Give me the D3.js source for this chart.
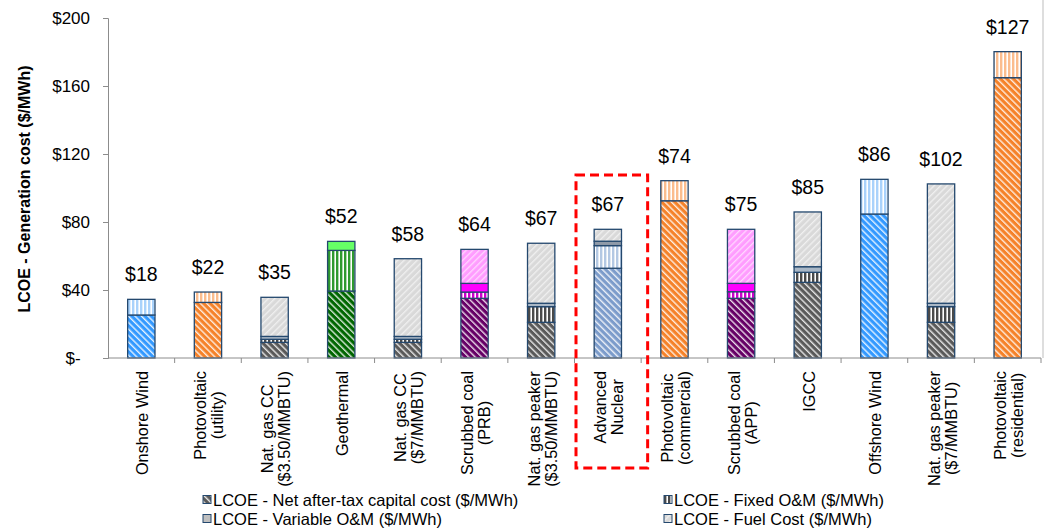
<!DOCTYPE html>
<html>
<head>
<meta charset="utf-8">
<script src="https://cdn.jsdelivr.net/npm/d3@7/dist/d3.min.js"></script>
<style>
  html, body { margin: 0; padding: 0; background: #fff; }
  svg { display: block; font-family: Arial, "Liberation Sans", sans-serif; }
</style>
</head>
<body>
<svg id="chart" width="1048" height="529"></svg>
<script>
// Technologies along the x axis (line breaks split with "\n")
const categories = [
  "Onshore Wind", "Photovoltaic\n(utility)", "Nat. gas CC\n($3.50/MMBTU)", "Geothermal",
  "Nat. gas CC\n($7/MMBTU)", "Scrubbed coal\n(PRB)", "Nat. gas peaker\n($3.50/MMBTU)",
  "Advanced\nNuclear", "Photovoltaic\n(commercial)", "Scrubbed coal\n(APP)", "IGCC",
  "Offshore Wind", "Nat. gas peaker\n($7/MMBTU)", "Photovoltaic\n(residential)"
];
// Technology family of each bar (selects its colour set)
const family = ["wind", "pv", "gas", "geo", "gas", "coal", "gas", "nuclear", "pv", "coal", "gas", "wind", "gas", "pv"];

// LCOE components, $/MWh
const capitalCost = [25.3, 32.7, 9.2, 39.4, 9.2, 35.1, 21.0, 52.8, 92.5, 35.1, 44.5, 84.7, 21.0, 164.9];
const fixedOM     = [9.2, 6.1, 1.8, 23.9, 1.8, 3.7, 9.2, 13.3, 11.8, 3.9, 5.9, 20.4, 9.2, 15.3];
const variableOM  = [0, 0, 1.7, 5.3, 1.7, 5.1, 2.0, 2.6, 0, 4.9, 3.3, 0, 2.0, 0];
const fuelCost    = [0, 0, 23.0, 0, 45.7, 20.0, 35.3, 7.0, 0, 31.8, 32.2, 0, 70.2, 0];

// Figures printed above each bar
const barLabels = [18, 22, 35, 52, 58, 64, 67, 67, 74, 75, 85, 86, 102, 127];

// Axis ticks
const yTicks = [0, 40, 80, 120, 160, 200];

const seriesKeys = ["capital", "fixed", "variable", "fuel"];
const legendNames = {
  capital: "LCOE - Net after-tax capital cost ($/MWh)",
  fixed: "LCOE - Fixed O&M ($/MWh)",
  variable: "LCOE - Variable O&M ($/MWh)",
  fuel: "LCOE - Fuel Cost ($/MWh)"
};

// colour sets: capital base, fixed stripe colour, variable fill, fuel base
const palette = {
  wind:    { capital: "#3399ff", fixed: "#a9d2fb", variable: "#6fb6ff", fuel: "#d9d9d9" },
  pv:      { capital: "#f5822a", fixed: "#fbbd8e", variable: "#f9a35f", fuel: "#d9d9d9" },
  gas:     { capital: "#5a5a5a", fixed: "#4a4a4a", variable: "#a9b7c6", fuel: "#d9d9d9" },
  geo:     { capital: "#006600", fixed: "#2f9a2f", variable: "#66ff66", fuel: "#d9d9d9" },
  coal:    { capital: "#660066", fixed: "#cc00cc", variable: "#ff00ff", fuel: "#ff9cff" },
  nuclear: { capital: "#7c9ccb", fixed: "#b3c8e3", variable: "#8f9aa8", fuel: "#d9d9d9" },
  legend:  { capital: "#5a5a5a", fixed: "#4a4a4a", variable: "#bfbfbf", fuel: "#d9d9d9" }
};

const svg = d3.select("#chart");
const defs = svg.append("defs");

function makePattern(id, kind, color) {
  if (kind === "variable") return color;
  const p = defs.append("pattern").attr("id", id).attr("patternUnits", "userSpaceOnUse");
  if (kind === "fixed") {
    p.attr("width", 4).attr("height", 4);
    p.append("rect").attr("width", 4).attr("height", 4).attr("fill", "#fff");
    p.append("rect").attr("width", 2.4).attr("height", 4).attr("fill", color);
  } else if (kind === "capital") {
    p.attr("width", 4.6).attr("height", 4.6).attr("patternTransform", "rotate(-45)");
    p.append("rect").attr("width", 4.6).attr("height", 4.6).attr("fill", color);
    p.append("rect").attr("width", 1.4).attr("height", 4.6).attr("fill", "#fff").attr("opacity", 0.85);
  } else {
    p.attr("width", 4.6).attr("height", 4.6).attr("patternTransform", "rotate(45)");
    p.append("rect").attr("width", 4.6).attr("height", 4.6).attr("fill", color);
    p.append("rect").attr("width", 1.3).attr("height", 4.6).attr("fill", "#fff").attr("opacity", 0.6);
  }
  return `url(#${id})`;
}

const fills = {};
Object.keys(palette).forEach(fam => {
  fills[fam] = {};
  seriesKeys.forEach(k => { fills[fam][k] = makePattern(`p-${fam}-${k}`, k, palette[fam][k]); });
});

const rows = categories.map((c, i) => ({
  cat: c, fam: family[i],
  capital: capitalCost[i], fixed: fixedOM[i], variable: variableOM[i], fuel: fuelCost[i]
}));

const x = d3.scaleBand().domain(categories).range([108, 1041]).padding(0);
const y = d3.scaleLinear().domain([0, 200]).range([358, 18]);
const barW = x.bandwidth() * 0.41;

const stacked = d3.stack().keys(seriesKeys)(rows);

// Right frame edge
svg.append("line").attr("x1", 1043).attr("x2", 1043).attr("y1", 0).attr("y2", 358)
  .attr("stroke", "#bdbdbd").attr("stroke-width", 1);

// Stacked bars
stacked.forEach(layer => {
  svg.append("g").selectAll("rect")
    .data(layer.filter(d => d[1] - d[0] > 0))
    .join("rect")
    .attr("x", d => x(d.data.cat) + (x.bandwidth() - barW) / 2)
    .attr("width", barW)
    .attr("y", d => y(d[1]))
    .attr("height", d => y(d[0]) - y(d[1]))
    .attr("fill", d => fills[d.data.fam][layer.key])
    .attr("stroke", "#24486e")
    .attr("stroke-width", 1.3);
});

// Figures above bars
svg.append("g").selectAll("text")
  .data(rows)
  .join("text")
  .attr("x", d => x(d.cat) + x.bandwidth() / 2)
  .attr("y", (d, i) => y(d.capital + d.fixed + d.variable + d.fuel) - 18)
  .attr("text-anchor", "middle")
  .attr("font-size", 19.5)
  .attr("fill", "#000")
  .text((d, i) => "$" + barLabels[i]);

// Y axis
const yAxis = svg.append("g").attr("transform", "translate(108,0)")
  .call(d3.axisLeft(y).tickValues(yTicks).tickSize(5).tickPadding(13)
    .tickFormat(d => d === 0 ? "$-\u2007" : "$" + d));
yAxis.select(".domain").attr("stroke", "#8c8c8c");
yAxis.selectAll(".tick line").attr("stroke", "#8c8c8c");
yAxis.selectAll(".tick text").attr("font-size", 17).attr("fill", "#000")
  .attr("font-family", "Arial, 'Liberation Sans', sans-serif");

// X axis line with boundary ticks
const xg = svg.append("g");
xg.append("line").attr("x1", 108).attr("x2", 1041).attr("y1", 358).attr("y2", 358)
  .attr("stroke", "#8c8c8c");
xg.selectAll("line.tk").data(categories.slice(1).concat(["__end"]))
  .join("line").attr("class", "tk")
  .attr("x1", d => d === "__end" ? 1041 : x(d)).attr("x2", d => d === "__end" ? 1041 : x(d))
  .attr("y1", 358).attr("y2", 363).attr("stroke", "#8c8c8c");

// Category labels, rotated
categories.forEach(c => {
  const lines = c.split("\n");
  const cx = x(c) + x.bandwidth() / 2;
  const g = svg.append("g");
  const texts = lines.map((ln, i) => g.append("text")
    .attr("font-size", 16.3).attr("fill", "#000").attr("text-anchor", "middle").text(ln));
  const maxLen = d3.max(texts, t => t.node().getComputedTextLength());
  const cy = 371 + maxLen / 2;
  texts.forEach((t, i) => {
    const bx = cx + (i - (lines.length - 1) / 2) * 17 + 7;
    t.attr("transform", `translate(${bx},${cy}) rotate(-90)`);
  });
});

// Y axis title
svg.append("text")
  .attr("transform", "translate(30,189) rotate(-90)")
  .attr("text-anchor", "middle")
  .attr("font-size", 16).attr("font-weight", "bold").attr("fill", "#000")
  .text("LCOE - Generation cost ($/MWh)");

// Highlight box around the nuclear bar
const nuc = categories[7];
svg.append("rect")
  .attr("x", x(nuc) + 1.5).attr("y", 175)
  .attr("width", x.bandwidth() + 5).attr("height", 293)
  .attr("fill", "none").attr("stroke", "#ff0000").attr("stroke-width", 3)
  .attr("stroke-dasharray", "9,5");

// Legend
const legendPos = [
  { key: "capital", x: 203, y: 500 },
  { key: "fixed", x: 664, y: 500 },
  { key: "variable", x: 203, y: 519 },
  { key: "fuel", x: 664, y: 519 }
];
const lg = svg.append("g");
legendPos.forEach(l => {
  lg.append("rect").attr("x", l.x).attr("y", l.y - 4.5).attr("width", 8).attr("height", 8)
    .attr("fill", fills.legend[l.key]).attr("stroke", "#24486e").attr("stroke-width", 1);
  lg.append("text").attr("x", l.x + 10).attr("y", l.y + 6)
    .attr("font-size", 16.5).attr("fill", "#000").text(legendNames[l.key]);
});
</script>
</body>
</html>
